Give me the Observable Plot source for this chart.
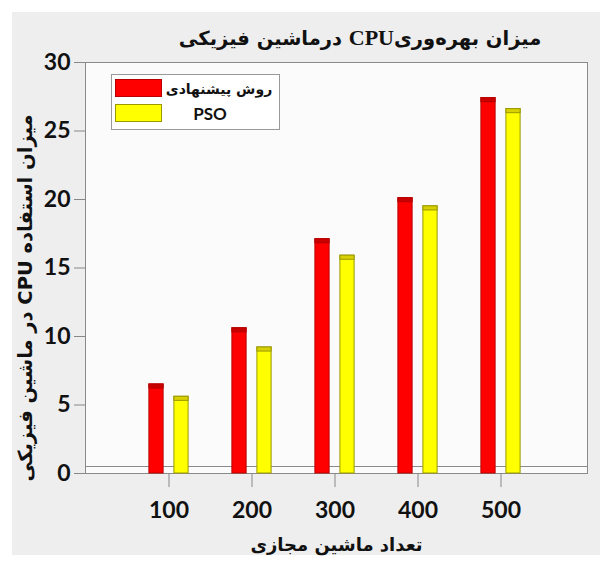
<!DOCTYPE html>
<html><head><meta charset="utf-8">
<script src="https://cdn.jsdelivr.net/npm/d3@7"></script>
<script src="https://cdn.jsdelivr.net/npm/@observablehq/plot@0.6"></script>
<style>
body{margin:0;background:#fff;}
#wrap{position:relative;width:612px;height:563px;overflow:hidden;}
#bg{position:absolute;left:12px;top:12px;width:588px;height:543px;background:#eeeeee;}
#chart{position:absolute;left:0;top:0;}
#title{position:absolute;left:150px;width:420px;top:25px;text-align:center;font-family:"DejaVu Sans";font-weight:bold;font-size:19.5px;color:#111;white-space:nowrap;}
#title .lat{font-family:"Liberation Serif";font-size:22px;}
#legend{position:absolute;left:111px;top:74px;width:167px;height:54px;border:1px solid #999;background:#fff;}
.row{position:absolute;left:3px;width:162px;height:20px;}
.sw{position:absolute;left:0;top:0;width:47px;height:18px;box-sizing:border-box;}
.lt{position:absolute;left:50px;top:0;height:20px;line-height:20px;text-align:center;font-weight:bold;color:#111;white-space:nowrap;}
</style></head>
<body>
<div id="wrap">
  <div id="bg"></div>
  <div id="chart"></div>
  <div id="title" dir="rtl">میزان بهره‌وری<span class="lat">CPU</span> درماشین فیزیکی</div>
  <div id="legend"></div>
</div>
<script>
const categories = ["100", "200", "300", "400", "500"];
const proposedValues = [6.5, 10.6, 17.1, 20.1, 27.4];
const psoValues = [5.6, 9.2, 15.9, 19.5, 26.6];
const seriesNames = ["روش پیشنهادی", "PSO"];
const seriesColors = ["#ff0000", "#ffff00"];
const seriesEdges = ["#b80000", "#9a9a00"];
const seriesCaps = ["#c80000", "#d8d000"];
const yTicks = [0, 5, 10, 15, 20, 25, 30];
const yLabel = "میزان استفاده CPU در ماشین فیزیکی";
const xLabel = "تعداد ماشین مجازی";

const proposed = categories.map((c, i) => ({cat: c, v: proposedValues[i]}));
const pso = categories.map((c, i) => ({cat: c, v: psoValues[i]}));

const W = 612, H = 563;
const ml = 85, mr = 25, mt = 62, mb = 90;
const inset = 34.4;
const off = 12.5;

function bars(data, k, dx) {
  return [
    Plot.barY(data, {x: "cat", y: "v", fill: seriesColors[k], stroke: seriesEdges[k], strokeWidth: 1, dx, insetLeft: inset, insetRight: inset}),
    Plot.barY(data, {x: "cat", y1: d => d.v - 0.3, y2: "v", fill: seriesCaps[k], stroke: seriesEdges[k], strokeWidth: 1, dx, insetLeft: inset, insetRight: inset})
  ];
}

const chart = Plot.plot({
  width: W, height: H,
  marginLeft: ml, marginRight: mr, marginTop: mt, marginBottom: mb,
  style: {background: "transparent", fontFamily: "Lato", color: "#111"},
  x: {domain: categories, range: [125.6, 544.4], padding: 0},
  y: {domain: [0, 30]},
  marks: [
    Plot.frame({fill: "#fbfbfb", stroke: "#8a8a8a"}),
    Plot.ruleY([0], {stroke: "#8a8a8a", dy: -7}),
    ...bars(proposed, 0, -off),
    ...bars(pso, 1, off),
    Plot.axisY({ticks: yTicks, tickSize: 11, tickPadding: 4, fontSize: 23, fontWeight: "bold", stroke: "#888", label: null}),
    Plot.axisX({tickSize: 14, tickPadding: 14, fontSize: 23, fontWeight: "bold", stroke: "#888", label: null}),
    Plot.text([yLabel], {text: d => "\u202B" + d + "\u202C", frameAnchor: "left", textAnchor: "middle", rotate: -90, dx: -60, dy: 30, fontFamily: "DejaVu Sans", fontWeight: "bold", fontSize: 19.5, fill: "#111"}),
    Plot.text([xLabel], {text: d => d, frameAnchor: "bottom", dy: 77, fontFamily: "DejaVu Sans", fontWeight: "bold", fontSize: 18, fill: "#111"})
  ]
});
document.getElementById("chart").appendChild(chart);

const legend = document.getElementById("legend");
seriesNames.forEach((name, k) => {
  const row = document.createElement("div");
  row.className = "row";
  row.style.top = (k === 0 ? 4 : 29) + "px";
  const sw = document.createElement("div");
  sw.className = "sw";
  sw.style.background = seriesColors[k];
  sw.style.border = "1px solid " + seriesEdges[k];
  const t = document.createElement("div");
  t.className = "lt";
  t.dir = "rtl";
  t.textContent = name;
  t.style.right = k === 0 ? "4px" : "22px";
  t.style.fontFamily = k === 0 ? "DejaVu Sans" : "Lato";
  t.style.fontSize = k === 0 ? "14px" : "17px";
  row.appendChild(sw); row.appendChild(t);
  legend.appendChild(row);
});
</script>
</body></html>
